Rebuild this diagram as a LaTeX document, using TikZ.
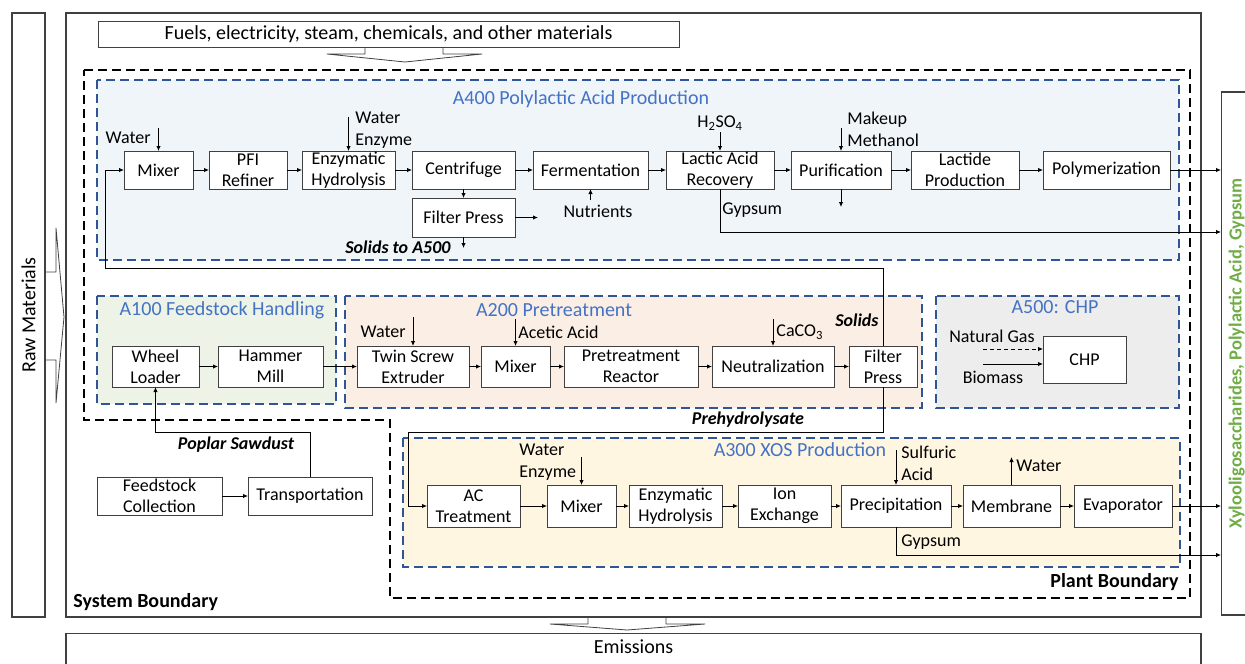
\documentclass[tikz,border=0pt]{standalone}
\usepackage{fontspec}
\setmainfont{Carlito}
\usepackage{tikz}
\usetikzlibrary{positioning,calc,arrows.meta}
\definecolor{boxgray}{RGB}{64,64,64}
\definecolor{regblue}{RGB}{47,85,151}
\definecolor{titleblue}{RGB}{68,114,196}
\definecolor{prodgreen}{RGB}{112,173,71}
\definecolor{fillpla}{RGB}{240,245,250}
\definecolor{fillfeed}{RGB}{237,244,231}
\definecolor{fillpre}{RGB}{251,239,229}
\definecolor{fillchp}{RGB}{237,237,237}
\definecolor{fillxos}{RGB}{255,246,226}

\begin{document}
\begin{tikzpicture}[x=1pt, y=-1pt, line width=0.9pt, >={Latex[length=5pt,width=4.5pt]},
        unit/.style={rectangle, draw=boxgray, line width=1pt, fill=white, align=center, inner sep=0pt, outer sep=0pt, minimum height=38pt, font=\fontsize{18}{21}\selectfont},
        frame/.style={draw=boxgray, line width=1.3pt},
        region/.style={draw=regblue, line width=1.2pt, dash pattern=on 9pt off 5pt},
        title/.style={text=titleblue, inner sep=0pt, font=\fontsize{20}{24}\selectfont},
        lbl/.style={inner sep=0pt, align=left, font=\fontsize{18}{22}\selectfont},
        stream/.style={inner sep=0pt, font=\fontsize{18}{22}\selectfont\bfseries\itshape},
        blockarrow/.style={draw=boxgray, line width=0.8pt, line join=round}]

        \useasboundingbox (0,0) rectangle (1245,664);
        \clip (0,0) rectangle (1245,664);

        % boundaries and areas
        \draw [frame] (66,13) rectangle (1201,617);
        \draw [black, line width=1.3pt, dash pattern=on 9pt off 5pt] (84,70) -- (1190,70) -- (1190,598) -- (390,598) -- (390,420) -- (84,420) -- cycle;
        \draw [region, fill=fillpla] (97,80) rectangle (1179,260);
        \draw [region, fill=fillfeed] (97,296) rectangle (336,404);
        \draw [region, fill=fillpre] (345,296) rectangle (922,408);
        \draw [region, fill=fillchp] (936,296) rectangle (1179,408);
        \draw [region, fill=fillxos] (403,438) rectangle (1180,567);

        \node [title] (tpla) at (581,99) {A400 Polylactic Acid Production};
        \node [title] (tfeed) at (222,310) {A100 Feedstock Handling};
        \node [title] (tpre) at (554,310) {A200 Pretreatment};
        \node [title] (tchp) at (1055,307) {A500: CHP};
        \node [title] (txos) at (800,450) {A300 XOS Production};

        \node [inner sep=0pt, font=\fontsize{20}{24}\selectfont\bfseries, anchor=west] (sysb) at (73,602) {System Boundary};
        \node [inner sep=0pt, font=\fontsize{20}{24}\selectfont\bfseries, anchor=east] (plantb) at (1179,582) {Plant Boundary};

        % outer boxes
        \node [frame, rotate=90, minimum width=604pt, minimum height=33pt, inner sep=0pt, font=\fontsize{20}{24}\selectfont] (raw) at (28.5,315) {Raw Materials};
        \node [unit, minimum width=581pt, minimum height=26pt, font=\fontsize{20}{24}\selectfont] (fuels) at (388.5,34) {Fuels, electricity, steam, chemicals, and other materials};
        \node [frame, anchor=north, minimum width=1135pt, inner ysep=6pt, text height=14pt, text depth=30pt, font=\fontsize{20}{24}\selectfont] (emis) at (633.5,633) {Emissions};
        \node [frame, rotate=90, anchor=north, minimum width=523pt, inner ysep=8pt, text height=12pt, text depth=30pt, text=prodgreen, font=\fontsize{18.5}{22}\selectfont\bfseries] (prod) at (1221,353.5) {Xylooligosaccharides, Polylactic Acid, Gypsum};

        \draw [blockarrow] (365,47) -- (365,54) -- (327,54) -- (405,62) -- (482,54) -- (443,54) -- (443,47);
        \draw [blockarrow] (588,617) -- (588,624) -- (550,624) -- (627,630) -- (705,624) -- (666,624) -- (666,617);
        \draw [blockarrow] (45,272) -- (56,272) -- (56,228) -- (64,317) -- (56,403) -- (56,360) -- (45,360);

        % A400
        \node [unit, minimum width=69pt] (mixA) at (158.5,170) {Mixer};
        \node [unit, minimum width=78pt, right=16pt of mixA] (pfi) {PFI\\Refiner};
        \node [unit, minimum width=93pt, right=15pt of pfi] (enzA) {Enzymatic\\Hydrolysis};
        \node [unit, minimum width=103pt, right=17pt of enzA] (cent) {Centrifuge};
        \node [unit, minimum width=115pt, right=18pt of cent] (ferm) {Fermentation};
        \node [unit, minimum width=108pt, right=18pt of ferm] (lar) {Lactic Acid\\Recovery};
        \node [unit, minimum width=100pt, right=17pt of lar] (puri) {Purification};
        \node [unit, minimum width=108pt, right=20pt of puri] (lact) {Lactide\\Production};
        \node [unit, minimum width=127pt, right=24pt of lact] (poly) {Polymerization};
        \node [unit, minimum width=103pt, minimum height=39pt, below=9pt of cent] (fpA) {Filter Press};

        \node [lbl, anchor=east] (wA) at (151,138) {Water};
        \node [lbl, anchor=west] (weA) at (355,130) {Water\\Enzyme};
        \node [lbl] (h2so4) at (720,123) {H\textsubscript{2}SO\textsubscript{4}};
        \node [lbl, anchor=west] (meth) at (847,129) {Makeup\\Methanol};
        \node [lbl] (nutr) at (598,211) {Nutrients};
        \node [lbl, anchor=west] (gypA) at (722,210) {Gypsum};
        \node [stream, anchor=east] (solA) at (451,247) {Solids to A500};

        \draw [->] (mixA) -- (pfi);
        \draw [->] (pfi) -- (enzA);
        \draw [->] (enzA) -- (cent);
        \draw [->] (cent) -- (ferm);
        \draw [->] (ferm) -- (lar);
        \draw [->] (lar) -- (puri);
        \draw [->] (puri) -- (lact);
        \draw [->] (lact) -- (poly);
        \draw [->] (cent) -- (fpA);
        \draw [->] (mixA.north) ++(0,-23) -- (mixA.north);
        \draw [->] (enzA.north) ++(0,-34) -- (enzA.north);
        \draw [->] (lar.north) ++(0,-19) -- (lar.north);
        \draw [->] (puri.north) ++(0,-23) -- (puri.north);
        \draw [->] (ferm.south) ++(0,11) -- (ferm.south);
        \draw [->] (puri.south) -- ++(0,18);
        \draw [->] (fpA.east) -- ++(23,0);
        \draw [->] (fpA.south) -- ++(0,11);
        \draw [->] (lar.south) -- ++(0,43) coordinate (gypAturn) -- (gypAturn -| prod.north);
        \draw [->] (poly.east) -- (poly.east -| prod.north);

        % A100 and feedstock supply
        \node [unit, minimum width=87pt, minimum height=41pt] (wheel) at (155.5,366.5) {Wheel\\Loader};
        \node [unit, minimum width=105pt, minimum height=41pt, right=19pt of wheel] (hammer) {Hammer\\Mill};
        \node [unit, minimum width=125pt] (coll) at (159.5,496) {Feedstock\\Collection};
        \node [unit, minimum width=124pt, right=26pt of coll] (trans) {Transportation};
        \node [stream] (poplar) at (236,445) {Poplar Sawdust};

        \draw [->] (wheel) -- (hammer);
        \draw [->] (coll) -- (trans);
        \draw [->] (trans.north) |- ($(wheel.south)+(0,45)$) -- (wheel.south);

        % A200
        \node [unit, minimum width=112pt, minimum height=41pt, right=34pt of hammer] (twin) {Twin Screw\\Extruder};
        \node [unit, minimum width=69pt, minimum height=41pt, right=12pt of twin] (mixB) {Mixer};
        \node [unit, minimum width=134pt, minimum height=41pt, right=14pt of mixB] (reactor) {Pretreatment\\Reactor};
        \node [unit, minimum width=122pt, minimum height=41pt, right=14pt of reactor] (neut) {Neutralization};
        \node [unit, minimum width=68pt, minimum height=41pt, right=15pt of neut] (fpB) {Filter\\Press};

        \node [lbl, anchor=east] (wB) at (406,332) {Water};
        \node [lbl, anchor=west] (acetic) at (518,332) {Acetic Acid};
        \node [lbl, anchor=west] (caco) at (776,332) {CaCO\textsubscript{3}};
        \node [stream, anchor=east] (solids) at (879,320) {Solids};
        \node [stream] (prehyd) at (748,420) {Prehydrolysate};

        \draw [->] (hammer) -- (twin);
        \draw [->] (twin) -- (mixB);
        \draw [->] (mixB) -- (reactor);
        \draw [->] (reactor) -- (neut);
        \draw [->] (neut) -- (fpB);
        \draw [->] (twin.north) ++(0,-29) -- (twin.north);
        \draw [->] (mixB.north) ++(0,-27) -- (mixB.north);
        \draw [->] (neut.north) ++(0,-27) -- (neut.north);
        \draw [->] (fpB.north) |- (105,268) |- (mixA.west);

        % A500
        \node [unit, minimum width=83pt, minimum height=47pt] (chp) at (1084.5,359.5) {CHP};
        \node [lbl] (natgas) at (992,336) {Natural Gas};
        \node [lbl] (biomass) at (993,377) {Biomass};
        \draw [->, dash pattern=on 4pt off 3pt] ($(chp.west)+(-60,-10.5)$) -- ($(chp.west)+(0,-10.5)$);
        \draw [->] ($(chp.west)+(-60,4.5)$) -- ($(chp.west)+(0,4.5)$);

        % A300
        \node [unit, minimum width=93pt, minimum height=42pt] (acT) at (473.5,506) {AC\\Treatment};
        \node [unit, minimum width=69pt, minimum height=42pt, right=27pt of acT] (mixC) {Mixer};
        \node [unit, minimum width=93pt, minimum height=42pt, right=13pt of mixC] (enzC) {Enzymatic\\Hydrolysis};
        \node [unit, minimum width=93pt, minimum height=42pt, right=16pt of enzC] (ion) {Ion\\Exchange};
        \node [unit, minimum width=110pt, minimum height=42pt, right=10pt of ion] (prec) {Precipitation};
        \node [unit, minimum width=97pt, minimum height=42pt, right=12pt of prec] (memb) {Membrane};
        \node [unit, minimum width=98pt, minimum height=42pt, right=14pt of memb] (evap) {Evaporator};

        \node [lbl, anchor=west] (weC) at (519,462) {Water\\Enzyme};
        \node [lbl, anchor=west] (sulf) at (901,463) {Sulfuric\\Acid};
        \node [lbl, anchor=west] (wC) at (1016,466) {Water};
        \node [lbl, anchor=west] (gypC) at (901,542) {Gypsum};

        \draw [->] (fpB.south) |- (408,432) |- (acT.west);
        \draw [->] (acT) -- (mixC);
        \draw [->] (mixC) -- (enzC);
        \draw [->] (enzC) -- (ion);
        \draw [->] (ion) -- (prec);
        \draw [->] (prec) -- (memb);
        \draw [->] (memb) -- (evap);
        \draw [->] (mixC.north) ++(0,-28) -- (mixC.north);
        \draw [->] (prec.north) ++(0,-35) -- (prec.north);
        \draw [->] (memb.north) -- ++(0,-28);
        \draw [->] (prec.south) -- ++(0,28) coordinate (gypCturn) -- (gypCturn -| prod.north);
        \draw [->] (evap.east) -- (evap.east -| prod.north);
    \end{tikzpicture}
\end{document}
